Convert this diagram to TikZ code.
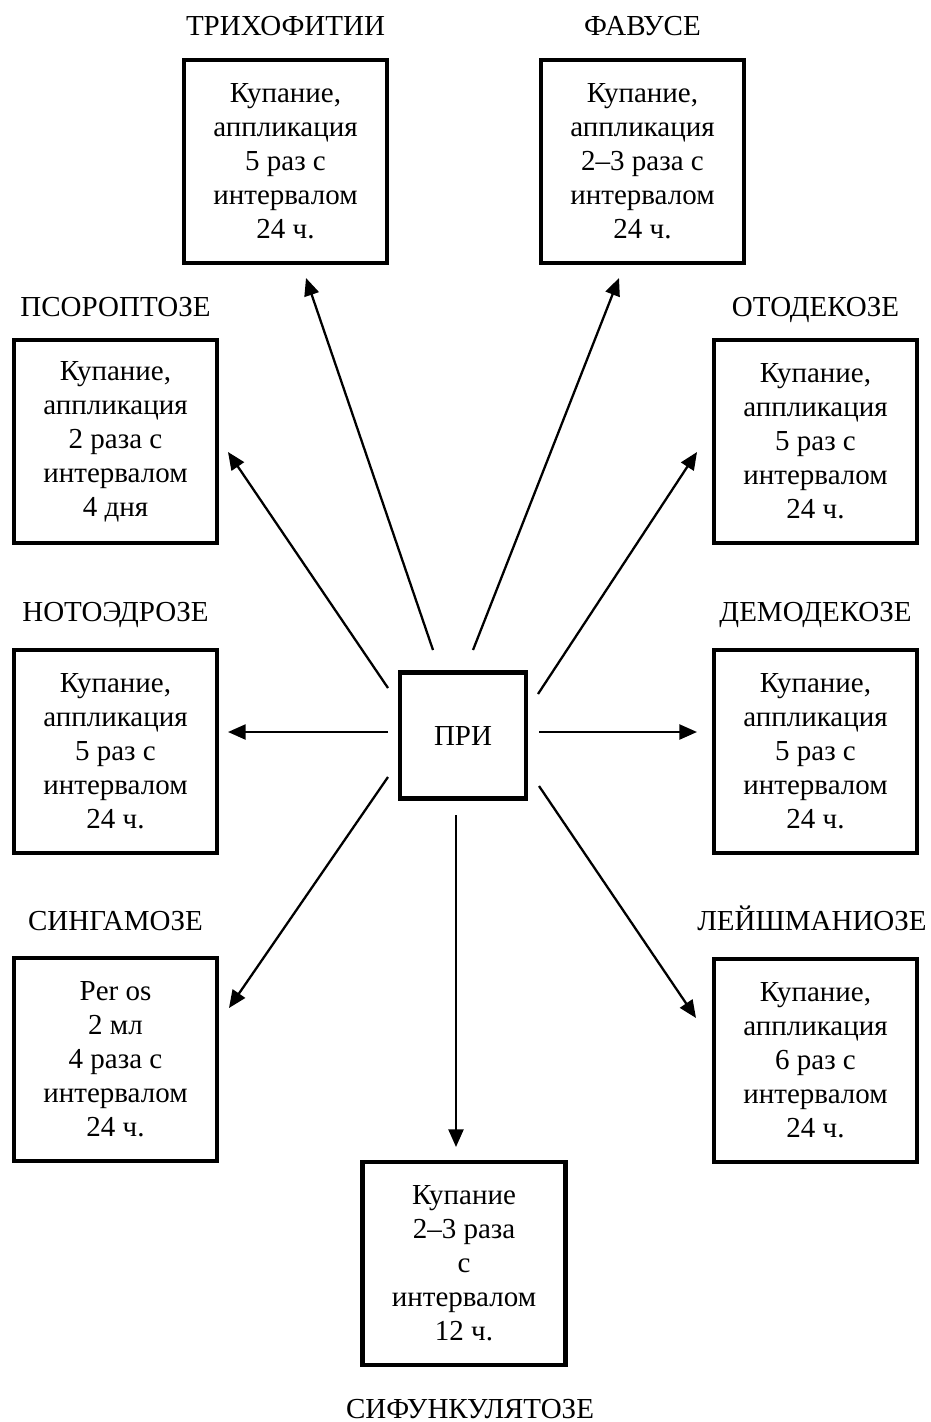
\documentclass[tikz,border=0pt]{standalone}
\usepackage{fontspec}
\setmainfont{Liberation Serif}
\usetikzlibrary{arrows.meta}
\tikzset{
  box/.style={draw, line width=2.3pt, minimum width=40.6mm, minimum height=40.6mm, inner sep=0pt, align=center, font=\fontsize{16.5}{19.4}\selectfont},
  centre/.style={draw, line width=2.3pt, minimum width=25.2mm, minimum height=25.2mm, inner sep=0pt, font=\fontsize{16.5}{19.4}\selectfont},
  lab/.style={anchor=base, inner sep=0pt, font=\fontsize{16.5}{19.4}\selectfont},
  arr/.style={line width=1.3pt, -{Triangle[length=10pt,width=8.5pt]}}
}
\begin{document}
\begin{tikzpicture}[x=0.2mm,y=-0.2mm]
\useasboundingbox (0,0) rectangle (931,1422);
% boxes
\node[box] (trich) at (285.5,161.5) {Купание,\\аппликация\\5 раз с\\интервалом\\24 ч.};
\node[box] (favus) at (642.5,161.5) {Купание,\\аппликация\\2–3 раза с\\интервалом\\24 ч.};
\node[box] (psor) at (115.5,441.5) {Купание,\\аппликация\\2 раза с\\интервалом\\4 дня};
\node[box] (otod) at (815.5,441.5) {Купание,\\аппликация\\5 раз с\\интервалом\\24 ч.};
\node[box] (noto) at (115.5,751.5) {Купание,\\аппликация\\5 раз с\\интервалом\\24 ч.};
\node[box] (demod) at (815.5,751.5) {Купание,\\аппликация\\5 раз с\\интервалом\\24 ч.};
\node[box] (sing) at (115.5,1059.5) {Per os\\2 мл\\4 раза с\\интервалом\\24 ч.};
\node[box] (leish) at (815.5,1060.5) {Купание,\\аппликация\\6 раз с\\интервалом\\24 ч.};
\node[box] (sifunk) at (464,1263.5) {Купание\\2–3 раза\\с\\интервалом\\12 ч.};
\node[centre] (pri) at (463,735.5) {ПРИ};
% labels
\node[lab] (ltrich) at (285.5,36) {ТРИХОФИТИИ};
\node[lab] (lfavus) at (642.5,36) {ФАВУСЕ};
\node[lab] (lpsor) at (115.5,316) {ПСОРОПТОЗЕ};
\node[lab] (lotod) at (815.5,316) {ОТОДЕКОЗЕ};
\node[lab] (lnoto) at (115.5,621) {НОТОЭДРОЗЕ};
\node[lab] (ldemod) at (815.5,621) {ДЕМОДЕКОЗЕ};
\node[lab] (lsing) at (115.5,930) {СИНГАМОЗЕ};
\node[lab] (lleish) at (812,930) {ЛЕЙШМАНИОЗЕ};
\node[lab] (lsifunk) at (470,1418) {СИФУНКУЛЯТОЗЕ};
% connector ends
\coordinate (s1) at (433,650); \coordinate (e1) at (306,278);
\coordinate (s2) at (473,650); \coordinate (e2) at (619,278);
\coordinate (s3) at (388,688); \coordinate (e3) at (228,452);
\coordinate (s4) at (538,694); \coordinate (e4) at (697,452);
\coordinate (s5) at (388,732); \coordinate (e5) at (228,732);
\coordinate (s6) at (539,732); \coordinate (e6) at (697,732);
\coordinate (s7) at (388,777); \coordinate (e7) at (229,1008);
\coordinate (s8) at (539,786); \coordinate (e8) at (696,1018);
\coordinate (s9) at (456,815); \coordinate (e9) at (456,1147);
\draw[arr] (s1) -- (e1);
\draw[arr] (s2) -- (e2);
\draw[arr] (s3) -- (e3);
\draw[arr] (s4) -- (e4);
\draw[arr] (s5) -- (e5);
\draw[arr] (s6) -- (e6);
\draw[arr] (s7) -- (e7);
\draw[arr] (s8) -- (e8);
\draw[arr] (s9) -- (e9);
\end{tikzpicture}
\end{document}
